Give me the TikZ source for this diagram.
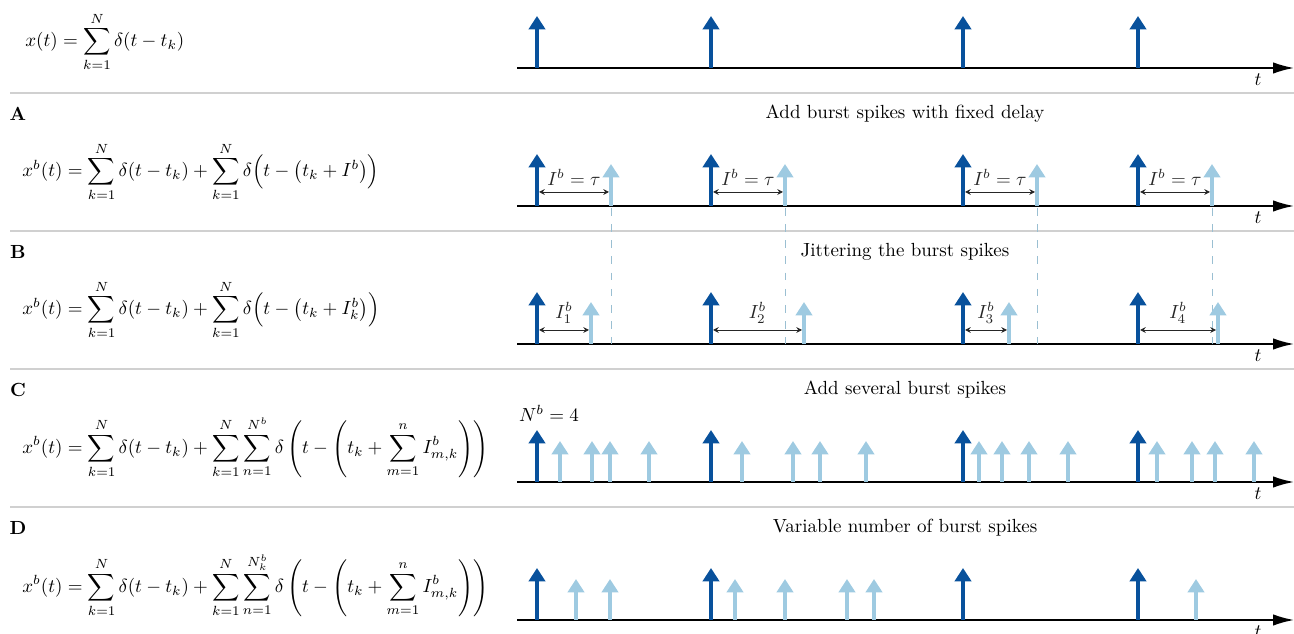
\documentclass[tikz,border=0pt]{standalone}
\usepackage{amsmath}
\usetikzlibrary{arrows.meta}
\definecolor{burstdark}{HTML}{08519C}
\definecolor{burstlight}{HTML}{9ECAE1}
\definecolor{rowrule}{HTML}{D0D0D0}
\tikzset{
  axisline/.style={line width=0.9pt, -{Latex[length=11pt,width=6pt]}},
  spikedark/.style={burstdark, line width=1.9pt, -{Triangle[length=7pt,width=8.5pt]}},
  spikelight/.style={burstlight, line width=1.9pt, -{Triangle[length=7pt,width=8.5pt]}},
  rowsep/.style={rowrule, line width=0.9pt},
  gapline/.style={line width=0.5pt, black!85, {Stealth[length=3pt,width=3pt,inset=1pt]}-{Stealth[length=3pt,width=3pt,inset=1pt]}},
  shiftline/.style={burstlight!85!gray, line width=0.5pt, dash pattern=on 4pt off 4.5pt},
}
\begin{document}
\begin{tikzpicture}[x=0.0185cm, y=-0.0185cm, line join=round]
\useasboundingbox (0,0) rectangle (1294,634);
\foreach \y in {93,231,369,507}
  \draw[rowsep] (10,\y) -- (1294,\y);
\foreach \r/\y in {0/68,A/206,B/344,C/482,D/620} {
  \draw[axisline] (517,\y) coordinate (ax\r) -- (1294,\y) coordinate (tip\r);
  \node (t\r) at (1258,\y+12) {$t$};
  \foreach \x [count=\i] in {537,711,963,1138}
    \draw[spikedark] (\x,\y) coordinate (k\r\i) -- (\x,\y-52);
}
\foreach \r/\y/\txt in {A/114/Add burst spikes with fixed delay, B/252/Jittering the burst spikes, C/390/Add several burst spikes, D/528/Variable number of burst spikes} {
  \node[font=\bfseries] (lab\r) at (18,\y) {\r};
  \node (head\r) at (905,\y) {\txt};
}
\node[anchor=west, inner sep=0pt] (f0) at (25,42)
  {$\displaystyle x(t)=\sum_{k=1}^{N}\delta(t-t_k)$};
\node[anchor=west, inner sep=0pt] (fA) at (22,172)
  {$\displaystyle x^b(t)=\sum_{k=1}^{N}\delta(t-t_k)+\sum_{k=1}^{N}\delta\Big(t-\big(t_k+I^b\big)\Big)$};
\node[anchor=west, inner sep=0pt] (fB) at (22,310)
  {$\displaystyle x^b(t)=\sum_{k=1}^{N}\delta(t-t_k)+\sum_{k=1}^{N}\delta\Big(t-\big(t_k+I^b_k\big)\Big)$};
\node[anchor=west, inner sep=0pt] (fC) at (22,447)
  {$\displaystyle x^b(t)=\sum_{k=1}^{N}\delta(t-t_k)+\sum_{k=1}^{N}\sum_{n=1}^{N^b}\delta\left(t-\left(t_k+\sum_{m=1}^{n}I^b_{m,k}\right)\right)$};
\node[anchor=west, inner sep=0pt] (fD) at (22,585)
  {$\displaystyle x^b(t)=\sum_{k=1}^{N}\delta(t-t_k)+\sum_{k=1}^{N}\sum_{n=1}^{N^b_k}\delta\left(t-\left(t_k+\sum_{m=1}^{n}I^b_{m,k}\right)\right)$};
\foreach \x [count=\i] in {611,785,1037,1212} {
  \draw[shiftline] (\x,208) -- (\x,344);
  \draw[spikelight] (\x,206) coordinate (sA\i) -- (\x,164);
  \path (kA\i) ++(2,-14) coordinate (ga\i) (sA\i) ++(-2,-14) coordinate (gb\i);
  \draw[gapline] (ga\i) -- node[above=0pt] {$I^b=\tau$} (gb\i);
}
\foreach \x [count=\i] in {591,804,1009,1218} {
  \draw[spikelight] (\x,344) coordinate (sB\i) -- (\x,302);
  \path (kB\i) ++(2,-14) coordinate (ja\i) (sB\i) ++(-2,-14) coordinate (jb\i);
  \draw[gapline] (ja\i) -- node[above=0pt] {$I^b_{\i}$} (jb\i);
}
\node (nb) at (549,413) {$N^b=4$};
\foreach \x in {560,592,610,649,742,793,820,866,979,1002,1029,1068,1157,1192,1215,1254}
  \draw[spikelight] (\x,482) -- (\x,441);
\foreach \x in {576,610,735,785,847,874,1196}
  \draw[spikelight] (\x,620) -- (\x,579);
\end{tikzpicture}
\end{document}
